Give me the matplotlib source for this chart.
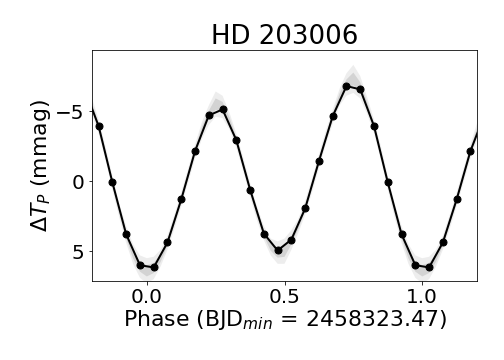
import numpy as np
import matplotlib
matplotlib.use("Agg")
import matplotlib.pyplot as plt

# binned light curve (0.05 phase bins)
bin_phase = [0.025, 0.075, 0.125, 0.175, 0.225, 0.275, 0.325, 0.375, 0.425, 0.475,
             0.525, 0.575, 0.625, 0.675, 0.725, 0.775, 0.825, 0.875, 0.925, 0.975]
bin_mag = [6.16, 4.38, 1.31, -2.14, -4.69, -5.12, -2.93, 0.60, 3.74, 4.95,
           4.17, 1.95, -1.43, -4.64, -6.79, -6.55, -3.93, 0.09, 3.79, 6.00]

# rough track of the unbinned points (centre + spread), every 0.025 in phase
raw_phase = [0.000, 0.025, 0.050, 0.075, 0.100, 0.125, 0.150, 0.175, 0.200, 0.225,
             0.250, 0.275, 0.300, 0.325, 0.350, 0.375, 0.400, 0.425, 0.450, 0.475,
             0.500, 0.525, 0.550, 0.575, 0.600, 0.625, 0.650, 0.675, 0.700, 0.725,
             0.750, 0.775, 0.800, 0.825, 0.850, 0.875, 0.900, 0.925, 0.950, 0.975]
raw_mag = [6.4, 6.2, 5.5, 4.4, 2.9, 1.3, -0.4, -2.1, -3.6, -4.7,
           -5.5, -5.3, -4.3, -2.9, -1.2, 0.6, 2.3, 3.7, 4.7, 5.1,
           5.0, 4.2, 3.2, 1.9, 0.3, -1.4, -3.1, -4.6, -6.0, -6.9,
           -7.3, -6.7, -5.4, -3.9, -2.0, 0.1, 2.1, 3.8, 5.2, 6.1]
raw_spread = [0.9, 0.8, 0.6, 0.5, 0.5, 0.5, 0.5, 0.5, 0.6, 0.7,
              0.9, 0.8, 0.6, 0.5, 0.5, 0.5, 0.5, 0.5, 0.6, 0.8,
              0.9, 0.7, 0.5, 0.5, 0.5, 0.5, 0.5, 0.5, 0.6, 0.8,
              1.0, 0.8, 0.6, 0.5, 0.5, 0.5, 0.5, 0.6, 0.7, 0.8]


def tile(ph, val):
    # repeat one cycle so the plot can run from -0.2 to 1.2
    ph = np.asarray(ph)
    val = np.asarray(val)
    return (np.concatenate([ph - 1, ph, ph + 1, [ph[0] + 2]]),
            np.concatenate([val, val, val, [val[0]]]))


plt.rcParams['font.family'] = 'DejaVu Sans'
fig, ax = plt.subplots(figsize=(7, 5), dpi=72)
fig.subplots_adjust(left=0.182, right=0.947, top=0.861, bottom=0.219)

rp, rm = tile(raw_phase, raw_mag)
_, rs = tile(raw_phase, raw_spread)
ax.fill_between(rp, rm - rs, rm + rs, color='0.8', alpha=0.35, lw=0)
ax.fill_between(rp, rm - 0.45 * rs, rm + 0.45 * rs, color='0.6', alpha=0.3, lw=0)

bp, bm = tile(bin_phase, bin_mag)
ax.plot(bp, bm, '-o', color='k', lw=2, markersize=7)

ax.set_xlim(-0.2, 1.2)
ax.set_ylim(7.14, -9.36)
ax.set_xticks([0.0, 0.5, 1.0])
ax.set_yticks([-5, 0, 5])
ax.tick_params(labelsize=20)
ax.set_title('HD 203006', fontsize=26, pad=6)
ax.set_xlabel('Phase (BJD$_{min}$ = 2458323.47)', fontsize=22, labelpad=1)
ax.set_ylabel(r'$\Delta T_P$ (mmag)', fontsize=22, labelpad=2)

fig.savefig('out.png', dpi=72)
